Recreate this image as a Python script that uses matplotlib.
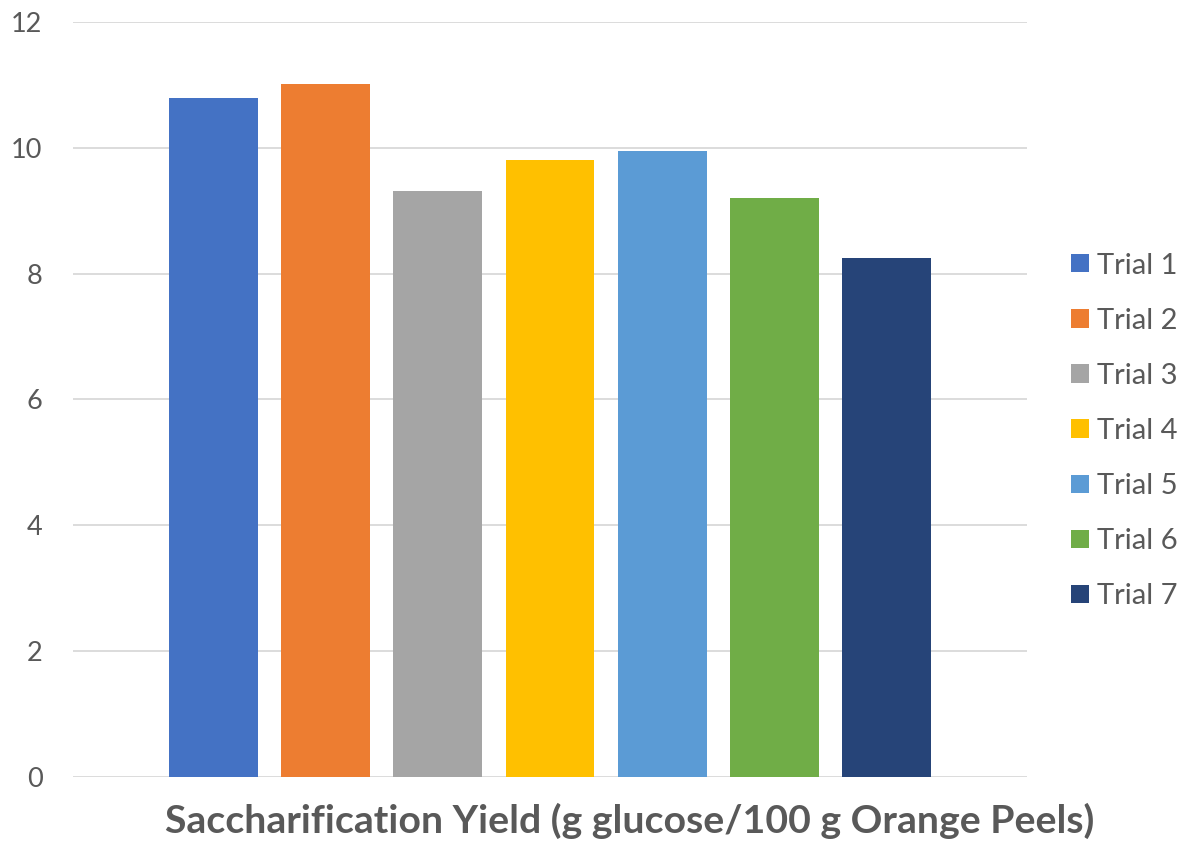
import matplotlib
matplotlib.use('agg')
import matplotlib.pyplot as plt
from matplotlib.patches import Patch

trials = ['Trial 1', 'Trial 2', 'Trial 3', 'Trial 4', 'Trial 5', 'Trial 6', 'Trial 7']
yields = [10.79, 11.01, 9.31, 9.80, 9.95, 9.20, 8.24]
colors = ['#4472C4', '#ED7D31', '#A5A5A5', '#FFC000', '#5B9BD5', '#70AD47', '#264478']
yticks = [0, 2, 4, 6, 8, 10, 12]

plt.rcParams['font.family'] = ['Lato', 'DejaVu Sans']
text_color = '#595959'

fig = plt.figure(figsize=(11.81, 8.41), dpi=100)
ax = fig.add_axes([73 / 1181, 64.3 / 841, 954 / 1181, 754.7 / 841])

x = list(range(len(trials)))
ax.bar(x, yields, width=0.79, color=colors, zorder=3)

ax.set_xlim(-1.25, 7.25)
ax.set_ylim(0, 12)
ax.set_yticks(yticks)
ax.set_yticklabels([str(t) for t in yticks], fontsize=19.5, color=text_color)
ax.set_xticks([])
ax.tick_params(axis='y', length=0, pad=22)
ax.grid(axis='y', color='#D9D9D9', linewidth=1.3, zorder=0)
for s in ax.spines.values():
    s.set_visible(False)

handles = [Patch(facecolor=c, edgecolor='none') for c in colors]
fig.legend(handles, trials, loc='center left', bbox_to_anchor=(1071 / 1181, 1 - 431 / 841),
           frameon=False, fontsize=21, labelcolor=text_color,
           handlelength=0.6, handleheight=0.6, handletextpad=0.3, labelspacing=1.0,
           borderaxespad=0, borderpad=0)

fig.text(630 / 1181, 1 - 821 / 841, 'Saccharification Yield (g glucose/100 g Orange Peels)',
         ha='center', va='center', fontsize=28.3, fontweight='bold', color=text_color)

fig.savefig('out.png', dpi=100, facecolor='white')
